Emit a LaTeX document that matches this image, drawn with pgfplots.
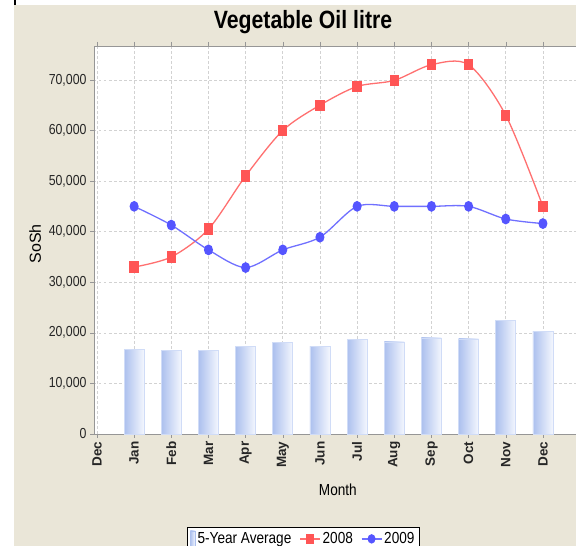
\documentclass[border=0pt]{standalone}
\usepackage{pgfplots}
\pgfplotsset{compat=1.18}
\usepackage{fontspec}
\setmainfont{Liberation Sans}[FakeStretch=0.85]
\newfontfamily\plainsans{Liberation Sans}
\definecolor{bgbeige}{RGB}{234,230,216}
\definecolor{jred}{RGB}{255,85,85}
\definecolor{jblue}{RGB}{85,85,255}
\definecolor{jredl}{RGB}{255,112,112}
\definecolor{jbluel}{RGB}{112,112,255}
\definecolor{barL}{RGB}{172,192,238}
\definecolor{barR}{RGB}{244,247,254}
\definecolor{barE}{RGB}{208,220,247}
\definecolor{gridc}{RGB}{210,210,210}
\definecolor{axc}{RGB}{150,150,150}

\pgfplotstableread{
x y2008 y2009
1 33000 45000
2 35000 41300
3 40500 36400
4 51000 32900
5 60000 36400
6 65000 38900
7 68700 45000
8 69900 45000
9 73000 45000
10 73000 45000
11 63000 42500
12 45000 41600
}\datatable

\pgfplotsset{avgbar/.style={ybar, bar width=20pt, left color=barL, right color=barR, draw=barE, line width=0.7pt}}

\begin{document}
\begin{tikzpicture}
\useasboundingbox (0pt,0pt) rectangle (576pt,546pt);
\fill[white] (0pt,0pt) rectangle (576pt,546pt);
\fill[bgbeige] (14pt,0pt) rectangle (576pt,541pt);
\draw[black, line width=1.6pt] (14.8pt,541pt) -- (14.8pt,546pt);
\node[anchor=base, font=\fontsize{25}{30}\selectfont\bfseries] at (303pt,517pt) {Vegetable Oil litre};
\begin{axis}[
  at={(94pt,112pt)}, anchor=south west,
  scale only axis, width=482pt, height=388pt,
  xmin=-0.08, xmax=12.89,
  ymin=0, ymax=76700,
  axis background/.style={fill=white},
  axis line style={axc, line width=0.8pt},
  xtick={0,...,12},
  xticklabels={Dec,Jan,Feb,Mar,Apr,May,Jun,Jul,Aug,Sep,Oct,Nov,Dec},
  xticklabel style={rotate=90, anchor=east, font=\plainsans\bfseries\fontsize{13.5}{16}\selectfont, text=black!85},
  ytick={0,10000,...,70000},
  scaled y ticks=false,
  /pgf/number format/fixed,
  /pgf/number format/1000 sep={,},
  /pgf/number format/assume math mode=true,
  yticklabel style={font=\fontsize{14.5}{17}\selectfont, text=black!85},
  tick align=outside,
  major tick length=4pt,
  tick style={axc, thin},
  grid=major,
  major grid style={gridc, dash pattern=on 2.5pt off 2.5pt, line width=0.6pt},
  ylabel={\plainsans SoSh},
  ylabel style={at={(axis description cs:-0.122,0.49)}, anchor=center, font=\fontsize{16}{18}\selectfont},
  xlabel={Month},
  xlabel style={at={(axis description cs:0.506,-0.144)}, anchor=center, font=\fontsize{16}{18}\selectfont},
  legend columns=-1,
  legend style={at={(axis description cs:0.434,-0.240)}, anchor=north, draw=black, line width=0.8pt, fill=white,
    font=\fontsize{16}{18}\selectfont, inner xsep=3pt, inner ysep=3pt,
    /tikz/every even column/.append style={column sep=6pt}},
  clip=false,
]
\addplot[avgbar, legend image code/.code={\fill[barL] (2pt,-7pt) rectangle (7pt,8pt);}] coordinates {(1,16750)};
\addlegendentry{5-Year Average}
\addplot[avgbar, forget plot] coordinates {(2,16550)};
\addplot[avgbar, forget plot] coordinates {(3,16600)};
\addplot[avgbar, forget plot] coordinates {(4,17350)};
\addplot[avgbar, forget plot] coordinates {(5,18050)};
\addplot[avgbar, forget plot] coordinates {(6,17350)};
\addplot[avgbar, forget plot] coordinates {(7,18700)};
\addplot[avgbar, forget plot] coordinates {(8,18200)};
\addplot[avgbar, forget plot] coordinates {(9,19000)};
\addplot[avgbar, forget plot] coordinates {(10,18800)};
\addplot[avgbar, forget plot] coordinates {(11,22500)};
\addplot[avgbar, forget plot] coordinates {(12,20200)};
\addplot[smooth, jredl, line width=1.3pt, mark=square*, mark size=5pt,
  mark options={xscale=0.8, solid, fill=jred, draw=jred},
  legend image code/.code={\draw[jredl, line width=1.3pt] (0pt,0pt) -- (20pt,0pt); \fill[jred] (6.5pt,-4pt) rectangle (13.5pt,4pt);}]
  table[x=x, y=y2008] {\datatable};
\addlegendentry{2008}
\addplot[smooth, jbluel, line width=1.3pt, mark=*, mark size=4.7pt,
  mark options={xscale=0.82, solid, fill=jblue, draw=jblue},
  legend image code/.code={\draw[jbluel, line width=1.3pt] (0pt,0pt) -- (20pt,0pt); \fill[jblue] (10pt,0pt) ellipse (3.3pt and 4pt);}]
  table[x=x, y=y2009] {\datatable};
\addlegendentry{2009}
\end{axis}
\end{tikzpicture}
\end{document}
